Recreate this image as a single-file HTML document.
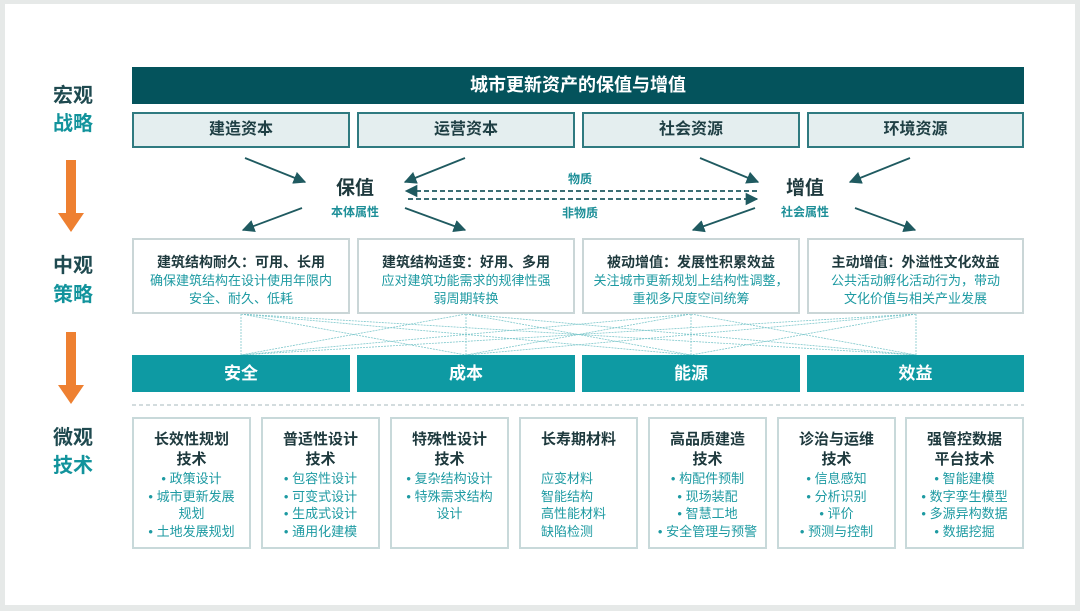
<!DOCTYPE html>
<html><head><meta charset="utf-8"><style>
body{margin:0;width:1080px;height:611px;background:#e6e9e8;position:relative;overflow:hidden;font-family:"Liberation Sans","Noto Sans CJK SC",sans-serif}
.slide{position:absolute;left:5px;top:4px;width:1070px;height:601px;background:#fff}
.a{position:absolute;box-sizing:border-box;text-align:center}
.lbl{font-size:20px;font-weight:bold;line-height:28px;width:60px;left:43px}
.cap{top:112px;height:36px;background:#e4eeef;border:2px solid #2f7a80;font-size:16px;font-weight:bold;color:#1f3f44;line-height:32px}
.mid{top:238px;height:76px;border:2px solid #cad6d7;background:#fff;padding-top:12px}
.mid b{display:block;font-size:14px;color:#1f3a3e;line-height:20px}
.mid span{display:block;font-size:13px;color:#1d9aa2;line-height:18px}
.bar{top:355px;height:37px;background:#0e9aa3;color:#fff;font-size:17px;font-weight:bold;line-height:37px}
.bt{top:417px;height:132px;width:119px;border:2px solid #c8d9da;padding-top:11px}
.bt b{display:block;font-size:15px;color:#1f3a3e;line-height:20px}
.bt span{display:block;font-size:13px;color:#1d9aa2;line-height:17.5px}
</style></head><body>
<div class="slide"></div>
<svg width="1080" height="611" style="position:absolute;left:0;top:0">
<defs>
<marker id="m" viewBox="0 0 10 10" refX="9" refY="5" markerWidth="7" markerHeight="7" orient="auto"><path d="M0,0L10,5L0,10z" fill="#1f5a60"/></marker>
</defs>
<g stroke="#1f5a60" stroke-width="1.8" marker-end="url(#m)">
<line x1="245" y1="158" x2="305" y2="182"/><line x1="465" y1="158" x2="405" y2="182"/>
<line x1="700" y1="158" x2="758" y2="182"/><line x1="910" y1="158" x2="850" y2="182"/>
<line x1="302" y1="208" x2="243" y2="230"/><line x1="405" y1="208" x2="465" y2="230"/>
<line x1="755" y1="208" x2="693" y2="230"/><line x1="855" y1="208" x2="915" y2="230"/>
<line x1="757" y1="191" x2="406" y2="191" stroke-dasharray="5,3"/>
<line x1="408" y1="199" x2="757" y2="199" stroke-dasharray="5,3"/>
</g>
<g stroke="#7fc8cc" stroke-width="0.8" stroke-dasharray="2,1">
<line x1="241" y1="314" x2="241" y2="355"/><line x1="241" y1="314" x2="466" y2="355"/><line x1="241" y1="314" x2="691" y2="355"/><line x1="241" y1="314" x2="916" y2="355"/>
<line x1="466" y1="314" x2="241" y2="355"/><line x1="466" y1="314" x2="466" y2="355"/><line x1="466" y1="314" x2="691" y2="355"/><line x1="466" y1="314" x2="916" y2="355"/>
<line x1="691" y1="314" x2="241" y2="355"/><line x1="691" y1="314" x2="466" y2="355"/><line x1="691" y1="314" x2="691" y2="355"/><line x1="691" y1="314" x2="916" y2="355"/>
<line x1="916" y1="314" x2="241" y2="355"/><line x1="916" y1="314" x2="466" y2="355"/><line x1="916" y1="314" x2="691" y2="355"/><line x1="916" y1="314" x2="916" y2="355"/>
</g>
<line x1="132" y1="405" x2="1024" y2="405" stroke="#b9c7c9" stroke-width="1.2" stroke-dasharray="4,3"/>
<g fill="#ee8031">
<rect x="66" y="160" width="10" height="55"/><path d="M58,213L84,213L71,232z"/>
<rect x="66" y="332" width="10" height="55"/><path d="M58,385L84,385L71,404z"/>
</g>
</svg>
<div class="a lbl" style="top:82px;color:#1f4a50">宏观</div>
<div class="a lbl" style="top:110px;color:#12939c">战略</div>
<div class="a lbl" style="top:252px;color:#1f4a50">中观</div>
<div class="a lbl" style="top:281px;color:#12939c">策略</div>
<div class="a lbl" style="top:424px;color:#1f4a50">微观</div>
<div class="a lbl" style="top:452px;color:#12939c">技术</div>
<div class="a" style="left:132px;top:67px;width:892px;height:37px;background:#04535c;color:#fff;font-size:18px;font-weight:bold;line-height:37px">城市更新资产的保值与增值</div>
<div class="a cap" style="left:132px;width:218px">建造资本</div>
<div class="a cap" style="left:357px;width:218px">运营资本</div>
<div class="a cap" style="left:582px;width:218px">社会资源</div>
<div class="a cap" style="left:807px;width:217px">环境资源</div>
<div class="a" style="left:315px;top:173px;width:80px;font-size:19px;font-weight:bold;color:#1f3a3e">保值</div>
<div class="a" style="left:315px;top:203px;width:80px;font-size:12px;font-weight:bold;color:#1d8f98">本体属性</div>
<div class="a" style="left:765px;top:173px;width:80px;font-size:19px;font-weight:bold;color:#1f3a3e">增值</div>
<div class="a" style="left:765px;top:203px;width:80px;font-size:12px;font-weight:bold;color:#1d8f98">社会属性</div>
<div class="a" style="left:540px;top:170px;width:80px;font-size:12px;font-weight:bold;color:#1d8f98">物质</div>
<div class="a" style="left:540px;top:204px;width:80px;font-size:12px;font-weight:bold;color:#1d8f98">非物质</div>
<div class="a mid" style="left:132px;width:218px"><b>建筑结构耐久：可用、长用</b><span>确保建筑结构在设计使用年限内</span><span>安全、耐久、低耗</span></div>
<div class="a mid" style="left:357px;width:218px"><b>建筑结构适变：好用、多用</b><span>应对建筑功能需求的规律性强</span><span>弱周期转换</span></div>
<div class="a mid" style="left:582px;width:218px"><b>被动增值：发展性积累效益</b><span>关注城市更新规划上结构性调整，</span><span>重视多尺度空间统筹</span></div>
<div class="a mid" style="left:807px;width:217px"><b>主动增值：外溢性文化效益</b><span>公共活动孵化活动行为，带动</span><span>文化价值与相关产业发展</span></div>
<div class="a bar" style="left:132px;width:218px">安全</div>
<div class="a bar" style="left:357px;width:218px">成本</div>
<div class="a bar" style="left:582px;width:218px">能源</div>
<div class="a bar" style="left:807px;width:217px">效益</div>
<div class="a bt" style="left:132px"><b>长效性规划</b><b>技术</b><span>• 政策设计</span><span>• 城市更新发展</span><span>规划</span><span>• 土地发展规划</span></div>
<div class="a bt" style="left:261px"><b>普适性设计</b><b>技术</b><span>• 包容性设计</span><span>• 可变式设计</span><span>• 生成式设计</span><span>• 通用化建模</span></div>
<div class="a bt" style="left:390px"><b>特殊性设计</b><b>技术</b><span>• 复杂结构设计</span><span>• 特殊需求结构</span><span>设计</span></div>
<div class="a bt" style="left:519px"><b>长寿期材料</b><b>&nbsp;</b><span style="text-align:left;padding-left:20px">应变材料</span><span style="text-align:left;padding-left:20px">智能结构</span><span style="text-align:left;padding-left:20px">高性能材料</span><span style="text-align:left;padding-left:20px">缺陷检测</span></div>
<div class="a bt" style="left:648px"><b>高品质建造</b><b>技术</b><span>• 构配件预制</span><span>• 现场装配</span><span>• 智慧工地</span><span>• 安全管理与预警</span></div>
<div class="a bt" style="left:777px"><b>诊治与运维</b><b>技术</b><span>• 信息感知</span><span>• 分析识别</span><span>• 评价</span><span>• 预测与控制</span></div>
<div class="a bt" style="left:905px"><b>强管控数据</b><b>平台技术</b><span>• 智能建模</span><span>• 数字孪生模型</span><span>• 多源异构数据</span><span>• 数据挖掘</span></div>
</body></html>
